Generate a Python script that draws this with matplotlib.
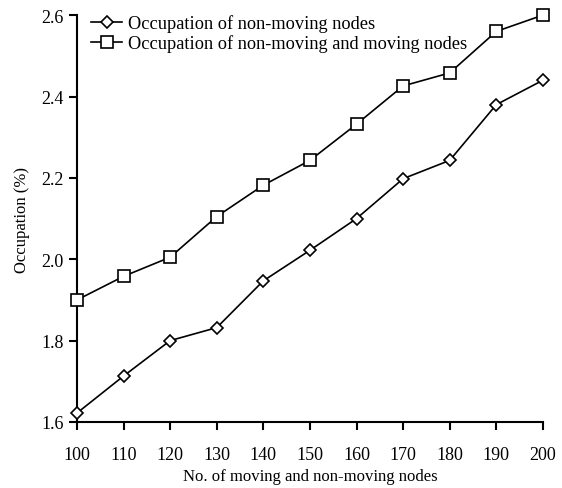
import matplotlib.pyplot as plt

nodes = [100, 110, 120, 130, 140, 150, 160, 170, 180, 190, 200]
non_moving = [1.622, 1.713, 1.800, 1.832, 1.947, 2.022, 2.100, 2.198, 2.243, 2.380, 2.440]
all_nodes = [1.900, 1.958, 2.005, 2.105, 2.182, 2.243, 2.332, 2.426, 2.458, 2.560, 2.600]

plt.rcParams["font.family"] = ["Liberation Serif", "DejaVu Serif"]
plt.rcParams["font.size"] = 13

fig = plt.figure(figsize=(5.62, 4.89), dpi=100)
ax = fig.add_axes([0.137, 0.135, 0.829, 0.832])

ax.plot(nodes, non_moving, color="black", lw=1.2, marker="D", ms=6.5,
        mfc="white", mec="black", mew=1.2, label="Occupation of non-moving nodes",
        clip_on=False, zorder=3)
ax.plot(nodes, all_nodes, color="black", lw=1.2, marker="s", ms=9,
        mfc="white", mec="black", mew=1.2,
        label="Occupation of non-moving and moving nodes", clip_on=False, zorder=3)

ax.set_xlim(100, 200)
ax.set_ylim(1.6, 2.6)
ax.set_xticks(nodes)
ax.set_yticks([1.6, 1.8, 2.0, 2.2, 2.4, 2.6])
ax.set_yticklabels(["1.6", "1.8", "2.0", "2.2", "2.4", "2.6"])
for side in ("top", "right"):
    ax.spines[side].set_visible(False)
for side in ("left", "bottom"):
    ax.spines[side].set_linewidth(1.5)
ax.tick_params(direction="out", length=6, width=1.5, labelsize=13)
ax.tick_params(axis="x", pad=11)

ax.set_xlabel("No. of moving and non-moving nodes", fontsize=12, labelpad=4)
ax.set_ylabel("Occupation (%)", fontsize=12, labelpad=8)

leg = ax.legend(loc="upper left", frameon=False, fontsize=13.2, handlelength=1.7,
                handletextpad=0.3, labelspacing=0.1, borderaxespad=0.0,
                bbox_to_anchor=(0.015, 1.02), markerscale=0.9)

fig.savefig("out.png", dpi=100)
